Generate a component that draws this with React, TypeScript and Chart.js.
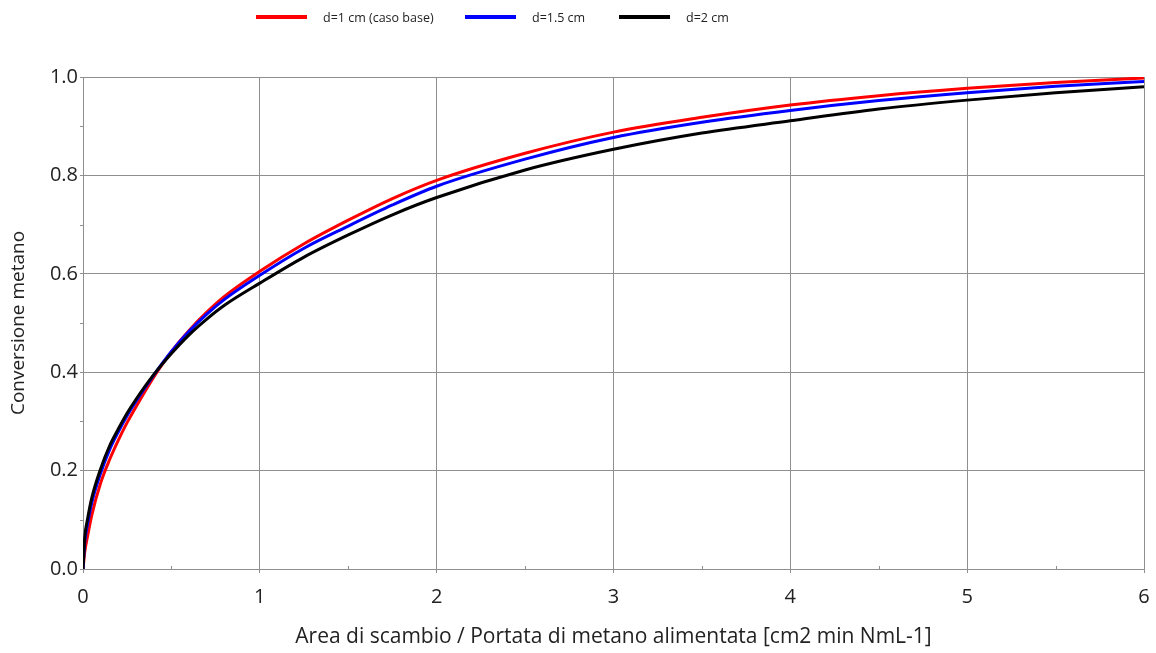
import React, { useEffect, useRef } from "react";
import { Chart, registerables } from "chart.js";

Chart.register(...registerables);

const X_VALUES = [0, 0.01, 0.025, 0.05, 0.1, 0.15, 0.2, 0.25, 0.3, 0.4, 0.5, 0.6, 0.7, 0.8, 1.0, 1.25, 1.5, 1.75, 2.0, 2.5, 3.0, 3.5, 4.0, 4.5, 5.0, 5.5, 6.0];
const RED_D1 = [0, 0.035, 0.065, 0.11, 0.175, 0.222, 0.262, 0.298, 0.33, 0.39, 0.442, 0.485, 0.522, 0.554, 0.605, 0.661, 0.709, 0.753, 0.79, 0.845, 0.888, 0.918, 0.943, 0.962, 0.977, 0.989, 0.998];
const BLUE_D15 = [0, 0.055, 0.09, 0.135, 0.195, 0.242, 0.279, 0.312, 0.341, 0.394, 0.442, 0.483, 0.518, 0.548, 0.597, 0.652, 0.697, 0.74, 0.778, 0.833, 0.877, 0.908, 0.932, 0.952, 0.968, 0.981, 0.991];
const BLACK_D2 = [0, 0.065, 0.1, 0.145, 0.204, 0.25, 0.285, 0.317, 0.345, 0.395, 0.438, 0.476, 0.508, 0.536, 0.581, 0.634, 0.679, 0.72, 0.755, 0.811, 0.853, 0.886, 0.911, 0.935, 0.953, 0.968, 0.98];

const SERIES_LABELS = ["d=1 cm (caso base)", "d=1.5 cm", "d=2 cm"];
const SERIES_COLORS = ["#ff0000", "#0000ff", "#000000"];
const X_MINOR = [0.5, 1.5, 2.5, 3.5, 4.5, 5.5];
const Y_MINOR = [0.1, 0.3, 0.5, 0.7, 0.9];
const X_TITLE = "Area di scambio / Portata di metano alimentata [cm2 min NmL-1]";
const Y_TITLE = "Conversione metano";

const LEGEND_LEFT = [256, 465, 619];
const FONT = "'Open Sans', 'Noto Sans', sans-serif";
const GRID = "#8f8f8f";

const minorTicks = {
  id: "minorTicks",
  afterDraw(chart: any) {
    const { ctx, chartArea, scales } = chart;
    const x = scales.x;
    const y = scales.y;
    ctx.save();
    ctx.strokeStyle = GRID;
    ctx.lineWidth = 1;
    for (const v of Y_MINOR) {
      const py = Math.round(y.getPixelForValue(v)) + 0.5;
      ctx.beginPath();
      ctx.moveTo(chartArea.left - 3, py);
      ctx.lineTo(chartArea.left + 1, py);
      ctx.stroke();
    }
    for (const v of X_MINOR) {
      const px = Math.round(x.getPixelForValue(v)) + 0.5;
      ctx.beginPath();
      ctx.moveTo(px, chartArea.bottom - 3);
      ctx.lineTo(px, chartArea.bottom + 1);
      ctx.stroke();
    }
    ctx.restore();
  },
};

export default function App() {
  const ref = useRef<HTMLCanvasElement | null>(null);

  useEffect(() => {
    document.body.style.margin = "0";
    const series = [RED_D1, BLUE_D15, BLACK_D2];
    const chart = new Chart(ref.current as HTMLCanvasElement, {
      type: "line",
      data: {
        datasets: series.map((vals, i) => ({
          label: SERIES_LABELS[i],
          data: X_VALUES.map((xv, j) => ({ x: xv, y: vals[j] })),
          borderColor: SERIES_COLORS[i],
          backgroundColor: SERIES_COLORS[i],
          borderWidth: 3,
          pointRadius: 0,
          cubicInterpolationMode: "monotone" as const,
          order: 3 - i,
        })),
      },
      options: {
        animation: false,
        responsive: false,
        maintainAspectRatio: false,
        layout: { padding: { top: 77, right: 12, left: 0, bottom: 0 } },
        plugins: {
          legend: { display: false },
          tooltip: { enabled: false },
        },
        scales: {
          x: {
            type: "linear",
            min: 0,
            max: 6,
            afterFit: (s: any) => {
              s.height = 84;
              s.paddingRight = 0;
              s.paddingLeft = 0;
            },
            ticks: {
              stepSize: 1,
              padding: 12,
              color: "#222",
              font: { family: FONT, size: 20 },
            },
            grid: { color: GRID, tickLength: 4, lineWidth: 1 },
            border: { color: GRID },
            title: {
              display: true,
              text: X_TITLE,
              color: "#222",
              font: { family: FONT, size: 21 },
              padding: { top: 4, bottom: 3 },
            },
          },
          y: {
            type: "linear",
            min: 0,
            max: 1,
            afterFit: (s: any) => {
              s.width = 83;
            },
            ticks: {
              stepSize: 0.2,
              padding: 2,
              color: "#222",
              font: { family: FONT, size: 20 },
              callback: (v: any) => Number(v).toFixed(1),
            },
            grid: { color: GRID, tickLength: 3, lineWidth: 1 },
            border: { color: GRID },
            title: {
              display: true,
              text: Y_TITLE,
              color: "#222",
              font: { family: FONT, size: 19 },
              padding: { top: 7, bottom: 4 },
            },
          },
        },
      },
      plugins: [minorTicks],
    });
    return () => chart.destroy();
  }, []);

  return (
    <div style={{ position: "relative", width: 1156, height: 653 }}>
      <canvas ref={ref} width={1156} height={653} style={{ display: "block" }} />
      {SERIES_LABELS.map((lab, i) => (
        <div
          key={lab}
          style={{
            position: "absolute",
            top: 8,
            left: LEGEND_LEFT[i],
            display: "flex",
            alignItems: "center",
            fontFamily: FONT,
            fontSize: 12.5,
            color: "#222",
            whiteSpace: "nowrap",
            height: 18,
          }}
        >
          <span style={{ display: "inline-block", width: 51, height: 4, background: SERIES_COLORS[i], marginRight: 16 }} />
          <span>{lab}</span>
        </div>
      ))}
    </div>
  );
}
